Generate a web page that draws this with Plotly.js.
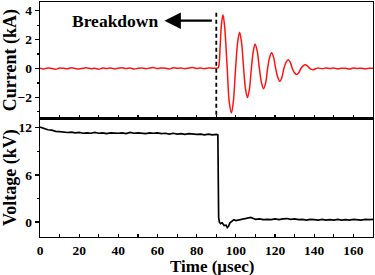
<!DOCTYPE html>
<html>
<head>
<meta charset="utf-8">
<script src="https://cdn.plot.ly/plotly-3.0.1.min.js"></script>
<style>html,body{margin:0;padding:0;background:#fff;}#chart{width:375px;height:275px;}</style>
</head>
<body>
<div id="chart"></div>
<script>
// ---- data ----
const currentTime = [
  0,2,4,6,8,10,12,14,16,18,20,22,24,26,28,30,32,34,36,38,40,42,44,46,48,50,52,54,56,58,60,62,64,66,68,70,72,74,76,78,80,82,84,86,88,90,
  91,91.5,92,92.6,93.4,94.2,95.5,96.6,97.7,98.7,99.8,100.9,101.9,102.9,103.9,104.9,105.9,106.9,107.9,108.9,109.8,110.9,112,113.1,114.1,115.2,116.2,117.2,118.2,119.3,120.3,121.4,122.4,123.5,124.5,125.6,126.7,127.8,128.8,129.9,131,132.1,133.2,134.3,135.4,136.5,137.5,138.5,139.5,141,142,
  144,146,148,150,152,154,156,158,160,162,164,166,168,170
];
const currentKA = [
  0.02,-0.03,0.04,0.00,-0.05,0.03,0.01,-0.02,0.05,0.00,-0.04,0.02,0.04,-0.02,0.01,-0.05,0.03,0.00,0.04,-0.03,0.02,0.05,-0.01,0.03,-0.04,0.01,0.04,-0.02,0.03,0.06,-0.01,0.04,0.02,-0.03,0.05,0.01,0.03,-0.02,0.04,0.06,0.00,0.03,-0.02,0.04,0.01,0.02,
  0.05,0.4,1.6,3.0,3.72,3.0,0.2,-2.3,-3.08,-2.3,-0.1,1.8,2.5,1.8,0.1,-1.4,-2.02,-1.45,0.0,1.2,1.7,1.2,0.0,-1.0,-1.4,-1.0,0.0,0.75,1.08,0.75,0.0,-0.62,-0.88,-0.62,0.0,0.42,0.6,0.42,0.0,-0.29,-0.41,-0.29,0.0,0.18,0.26,0.18,0.02,-0.06,-0.08,0.0,0.03,
  -0.02,0.03,0.00,0.04,-0.03,0.02,0.01,-0.04,0.03,0.00,0.02,-0.03,0.01,0.02
];
const voltageTime = [
  0,0.5,1.5,3,4,6,8,10,12,14,16,18,20,22,24,26,28,30,32,34,36,38,40,42,44,46,48,50,52,54,56,58,60,62,64,66,68,70,72,74,76,78,80,82,84,86,88,90,90.8,
  91.2,91.6,92.2,93,94,95,95.6,96.3,97,98,99,100,102,104,106,107.6,109,110,112,114,116,118,120,122,124,126,128,130,132,134,136,138,140,142,144,146,148,150,152,154,156,158,160,162,164,166,168,170
];
const voltageKV = [
  12.1,12.05,11.9,11.85,11.75,11.7,11.55,11.5,11.45,11.4,11.45,11.35,11.4,11.3,11.35,11.3,11.4,11.3,11.35,11.25,11.35,11.3,11.3,11.35,11.25,11.4,11.3,11.35,11.3,11.25,11.35,11.3,11.35,11.25,11.3,11.2,11.3,11.2,11.25,11.15,11.25,11.2,11.15,11.2,11.1,11.2,11.1,11.15,11.1,
  0.6,0.0,-0.2,-0.1,-0.45,-0.4,-0.7,-0.5,-0.1,0.15,0.3,0.2,0.3,0.35,0.45,0.6,0.45,0.35,0.4,0.3,0.35,0.3,0.4,0.3,0.4,0.45,0.35,0.4,0.3,0.35,0.25,0.35,0.3,0.25,0.35,0.25,0.3,0.25,0.35,0.25,0.3,0.25,0.35,0.3,0.25,0.35,0.3,0.35
];
const breakdownTime = 90;
const breakdownLabel = "Breakdown";
const xTitle = "Time (μsec)";
const xTickVals = [0,20,40,60,80,100,120,140,160];
const currentTickVals = [-2,0,2,4];
const voltageTickVals = [0,6,12];

// ---- styling ----
const serif = "'Liberation Serif', 'Times New Roman', serif";
const tickFont = {family: serif, size: 13.5, color: '#000', weight: 'bold'};
const titleFont = {family: serif, size: 18, color: '#000', weight: 'bold'};

const traces = [
  {x: currentTime, y: currentKA, xaxis: 'x2', yaxis: 'y2', mode: 'lines',
   line: {color: 'rgb(255,20,20)', width: 1.5, shape: 'spline', smoothing: 0.9}, hoverinfo: 'skip'},
  {x: voltageTime, y: voltageKV, xaxis: 'x', yaxis: 'y', mode: 'lines',
   line: {color: '#000', width: 1.7}, hoverinfo: 'skip'}
];

const xCommon = {
  range: [0, 170], tickvals: xTickVals, ticks: 'inside', ticklen: 3, tickwidth: 1.2, tickcolor: '#000',
  minor: {dtick: 10, ticks: 'inside', ticklen: 3, tickwidth: 1.2, tickcolor: '#000'},
  showline: true, linecolor: '#000', linewidth: 1.3, mirror: true, showgrid: false, zeroline: false,
  tickfont: tickFont
};

const layout = {
  width: 375, height: 275,
  margin: {l: 40, r: 2, t: 2, b: 38},
  paper_bgcolor: '#fff', plot_bgcolor: '#fff',
  showlegend: false,
  xaxis: Object.assign({}, xCommon, {domain: [0,1], anchor: 'y'}),
  xaxis2: Object.assign({}, xCommon, {domain: [0,1], anchor: 'y2', matches: 'x', showticklabels: false}),
  yaxis: {domain: [0, 0.505], anchor: 'x', range: [-1.9, 13.2], tickvals: voltageTickVals,
    ticks: 'outside', ticklen: 4, tickwidth: 1.2, tickcolor: '#000',
    minor: {dtick: 3, ticks: 'outside', ticklen: 2, tickwidth: 1.2, tickcolor: '#000'},
    showline: true, linecolor: '#000', linewidth: 1.3, mirror: true, showgrid: false, zeroline: false,
    tickfont: tickFont, title: {text: 'Voltage (kV)', font: titleFont, standoff: 2}},
  yaxis2: {domain: [0.505, 1], anchor: 'x2', range: [-3.45, 4.6], tickvals: currentTickVals,
    ticks: 'outside', ticklen: 4, tickwidth: 1.2, tickcolor: '#000',
    minor: {dtick: 1, ticks: 'outside', ticklen: 2, tickwidth: 1.2, tickcolor: '#000'},
    showline: true, linecolor: '#000', linewidth: 1.3, mirror: true, showgrid: false, zeroline: false,
    tickfont: tickFont, title: {text: 'Current (kA)', font: titleFont, standoff: 2}},
  shapes: [
    {type: 'line', xref: 'x2', yref: 'y2', x0: breakdownTime, x1: breakdownTime, y0: 3.85, y1: -3.45,
     line: {color: '#000', width: 1.8, dash: '4px,3px'}}
  ],
  annotations: [
    {xref: 'paper', yref: 'paper', x: 0.517, y: -0.126, text: xTitle, showarrow: false,
     font: {family: serif, size: 17, color: '#000', weight: 'bold'}, xanchor: 'center', yanchor: 'middle'},
    {xref: 'x2', yref: 'y2', x: 38.5, y: 3.31, text: breakdownLabel, showarrow: false,
     font: {family: serif, size: 17.5, color: '#000', weight: 'bold'}, xanchor: 'center', yanchor: 'middle'},
    {xref: 'x2', yref: 'y2', x: 63.5, y: 3.31, axref: 'x2', ayref: 'y2', ax: breakdownTime - 1.5, ay: 3.31,
     text: '', showarrow: true, arrowhead: 2, arrowsize: 1.5, arrowwidth: 2.2, arrowcolor: '#000', standoff: 0}
  ]
};

Plotly.newPlot('chart', traces, layout, {staticPlot: true, displayModeBar: false});
</script>
</body>
</html>
